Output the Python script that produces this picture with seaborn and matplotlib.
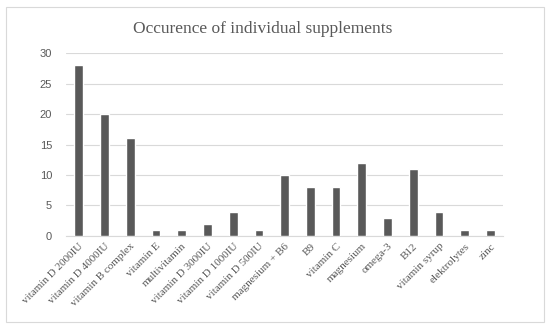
import matplotlib
matplotlib.use("Agg")
import matplotlib.pyplot as plt
import seaborn as sns
import pandas as pd
from matplotlib.patches import Rectangle

supplements = ["vitamin D 2000IU", "vitamin D 4000IU", "vitamin B complex", "vitamin E",
               "multivitamin", "vitamin D 3000IU", "vitamin D 1000IU", "vitamin D 500IU",
               "magnesium + B6", "B9", "vitamin C", "magnesium", "omega-3", "B12",
               "vitamin syrup", "elektrolytes", "zinc"]
counts = [28, 20, 16, 1, 1, 2, 4, 1, 10, 8, 8, 12, 3, 11, 4, 1, 1]

if __name__ == "__main__":
    sns.set_style("white")
    fig = plt.figure(figsize=(5.5, 3.3), dpi=100)
    ax = fig.add_axes([0.12, 0.285, 0.795, 0.554])
    df = pd.DataFrame({"Supplement": supplements, "Count": counts})

    sns.barplot(data=df, x="Supplement", y="Count", color="#595959", width=0.34,
                saturation=1, ax=ax, zorder=3)
    ax.set_ylim(0, 30)
    ax.set_yticks(range(0, 31, 5))
    ax.set_xlim(-0.5, len(supplements) - 0.5)
    ax.set_xlabel("")
    ax.set_ylabel("")
    ax.grid(axis="y", color="#d9d9d9", linewidth=0.8, zorder=0)
    for s in ["top", "right", "left"]:
        ax.spines[s].set_visible(False)
    ax.spines["bottom"].set_color("#d9d9d9")
    ax.tick_params(axis="both", length=0)
    ax.tick_params(axis="y", labelsize=8, labelcolor="#595959", pad=10)
    for lbl in ax.get_yticklabels():
        lbl.set_family("Liberation Sans")
    ax.set_xticks(range(len(supplements)))
    ax.set_xticklabels(supplements, rotation=45, ha="right", rotation_mode="anchor",
                       fontsize=8, color="#595959", family="Liberation Serif")
    ax.tick_params(axis="x", pad=4)

    fig.text(0.477, 0.912, "Occurence of individual supplements", ha="center", va="center",
             fontsize=12.5, color="#595959", family="Liberation Serif")
    fig.patches.append(Rectangle((0.011, 0.024), 0.978, 0.955, transform=fig.transFigure,
                                 fill=False, edgecolor="#d9d9d9", linewidth=0.8))
    plt.savefig("out.png", dpi=100)
